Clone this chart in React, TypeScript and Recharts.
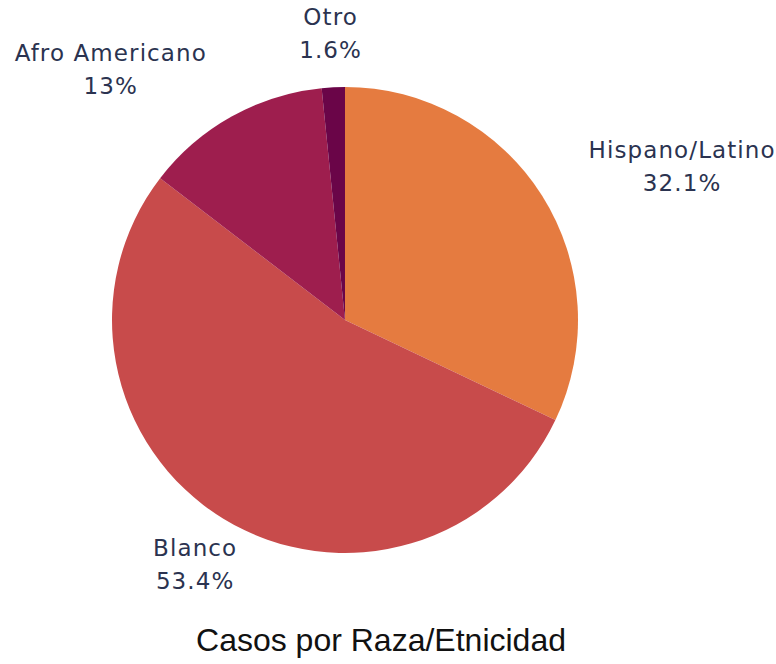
import React from 'react';
import { PieChart, Pie, Cell } from 'recharts';

const groups = ['Hispano/Latino', 'Blanco', 'Afro Americano', 'Otro'];
const shares = [32.1, 53.4, 13, 1.6];
const colors = ['#E57B40', '#C84B4B', '#9E1E4E', '#6A0548'];

const data = groups.map((name, i) => ({ name, value: shares[i] }));

const RADIAN = Math.PI / 180;
const CHAR_W = 13.5;

const renderLabel = (props: any) => {
  const { cx, cy, midAngle, outerRadius, name, value } = props;
  const r = outerRadius + 54;
  const cos = Math.cos(-midAngle * RADIAN);
  const sin = Math.sin(-midAngle * RADIAN);
  let x = cx + r * cos;
  const y = cy + r * sin;
  // labels in the upper half sit beside the point, the others centred on it
  if (sin < 0 && Math.abs(cos) > 0.2) {
    const half = (String(name).length * CHAR_W) / 2;
    x += cos > 0 ? half : -half;
  }
  return (
    <text
      x={x}
      y={y}
      textAnchor="middle"
      fill="#2B3350"
      fontSize={23}
      letterSpacing={1.1}
      fontFamily="'DejaVu Sans', sans-serif"
    >
      <tspan x={x} y={y - 16.5} dominantBaseline="central">{name}</tspan>
      <tspan x={x} y={y + 16.5} dominantBaseline="central">{value}%</tspan>
    </text>
  );
};

export default function App() {
  return (
    <div style={{ position: 'absolute', left: 0, top: 0, width: 776, height: 664, background: '#fff' }}>
      <PieChart width={776} height={620}>
        <Pie
          data={data}
          dataKey="value"
          nameKey="name"
          cx={340}
          cy={315}
          outerRadius={233}
          startAngle={90}
          endAngle={-270}
          stroke="none"
          label={renderLabel}
          labelLine={false}
          isAnimationActive={false}
        >
          {data.map((d, i) => (
            <Cell key={d.name} fill={colors[i]} />
          ))}
        </Pie>
      </PieChart>
      <div
        style={{
          position: 'absolute',
          left: 0,
          width: 762,
          top: 622,
          textAlign: 'center',
          fontFamily: "'Liberation Sans', Arial, sans-serif",
          fontSize: 32,
          color: '#111',
        }}
      >
        Casos por Raza/Etnicidad
      </div>
    </div>
  );
}
